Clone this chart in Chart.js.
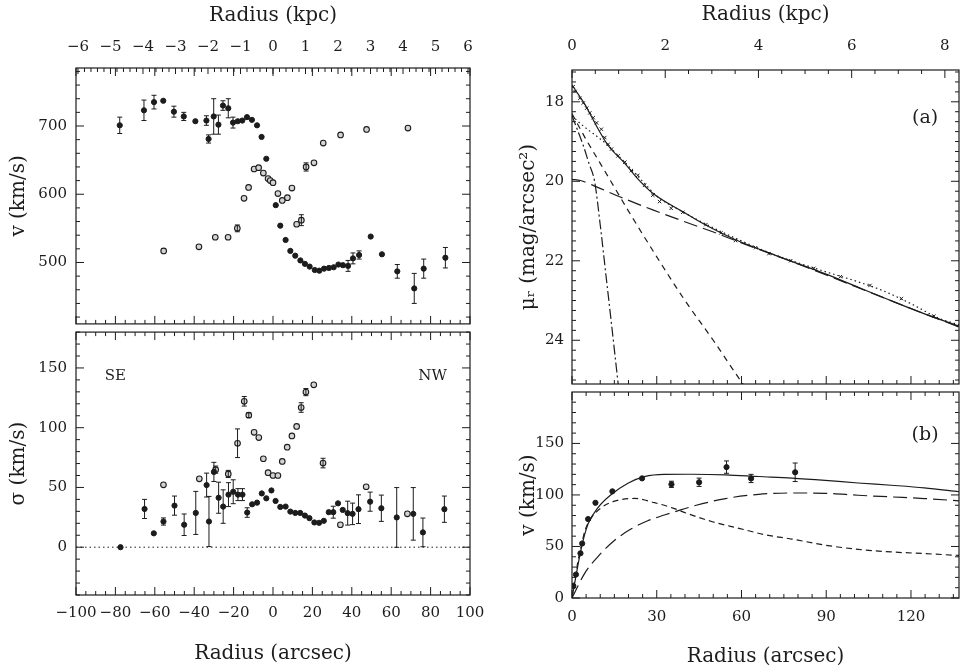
<!DOCTYPE html>
<html>
<head>
<meta charset="utf-8">
<script src="https://cdn.jsdelivr.net/npm/chart.js@4.4.1/dist/chart.umd.min.js"></script>
<style>
  body { margin: 0; background: #fff; width: 964px; height: 672px; overflow: hidden; position: relative; }
  canvas { position: absolute; }
</style>
</head>
<body>
<canvas id="velPanel" width="490" height="329" style="left:0;top:0"></canvas>
<canvas id="sigPanel" width="490" height="345" style="left:0;top:327px"></canvas>
<canvas id="muPanel" width="464" height="389" style="left:500px;top:0"></canvas>
<canvas id="rotPanel" width="464" height="285" style="left:500px;top:387px"></canvas>
<script>
// ---- stellar velocity (filled) and gas velocity (open), arcsec / km/s
const vR   = [-77.8,-65.5,-60.4,-55.7,-50.3,-45.3,-39.4,-33.8,-32.7,-30.1,-27.7,-25.4,-22.7,-20.3,-17.9,-15.6,-13.2,-10.7,-8.1,-5.8,-3.4,1.4,3.7,6.4,8.8,11.3,13.9,16.2,18.6,21.2,23.5,25.9,28.4,30.8,33.2,35.5,38.1,40.6,43.7,49.6,55.3,63.1,71.7,76.5,87.5];
const vV   = [701,723,735,737,721,714,707,708,681,714,702,730,726,705,707,708,713,709,701,684,652,584,554,533,517,510,503,498,494,489,488,491,492,493,497,496,495,506,511,538,512,487,462,491,507];
const vErr = [12,15,10,0,8,6,0,7,6,26,14,7,14,8,0,0,0,0,0,0,0,0,0,0,0,0,0,0,0,0,0,0,0,0,0,0,8,8,6,0,0,10,22,14,15];

const gR   = [-55.5,-37.6,-29.3,-22.8,-18.1,-14.7,-12.4,-9.6,-7.3,-4.9,-2.5,-1.4,0,2.5,4.7,7.3,9.6,12.0,14.4,16.8,20.8,25.5,34.3,47.5,68.5];
const gV   = [517,523,537,537,550,594,610,637,639,631,623,620,617,601,591,595,609,556,562,640,646,675,687,695,697];
const gErr = [0,0,0,0,5,0,0,0,0,0,0,0,0,0,0,0,0,0,8,6,0,0,0,0,0];

// ---- velocity dispersion, stars (filled) and gas (open)
const sR   = [-77.4,-65.2,-60.5,-55.6,-50,-45.1,-39.2,-33.7,-32.5,-30,-27.6,-25.3,-22.6,-20.2,-17.8,-15.5,-13.1,-10.6,-8.1,-5.7,-3.4,-0.8,1.3,3.7,6.4,8.8,11.3,13.8,16.2,18.5,21,23.4,25.8,28.3,30.6,33,35.4,37.9,40.4,43.4,49.3,55,62.8,71.2,76.1,87];
const sV   = [0,32,11.6,21.5,34.8,18.8,28.7,52,21.5,63,41.4,34,44,46.4,44,44,29,35.9,37.3,45,40.9,47.5,38.7,33.7,34,29.8,28.7,28.7,26.5,24.3,20.7,20.4,22.1,29.3,29.3,36.7,31.2,28.5,27.9,31.8,38.1,32.6,24.9,27.9,12.4,31.8];
const sErr = [0,8,0,3,8,9,18,10,21,8,13,14,10,10,5,5,4,0,0,0,0,0,0,0,0,0,0,0,0,0,0,0,0,0,5,0,0,10,9,12,8,11,25,22,12,11];

const soR   = [-55.6,-37.4,-29.1,-22.7,-18,-14.6,-12.3,-9.6,-7.2,-4.9,-2.5,0,2.5,4.7,7.2,9.6,12,14.3,16.7,20.7,25.4,34.2,47.3,68.2];
const soV   = [52.2,57.2,64.9,61.3,87,122.1,110.5,96.1,91.7,74,62.4,60,60,71.8,83.7,93.1,101.1,116.9,129.8,135.9,70.4,18.8,50.6,27.9];
const soErr = [0,0,3,3,12,4,2,0,0,0,0,0,0,0,0,0,0,4,3,0,4,0,0,0];
const zeroLine = [-100, 100];

// ---- (a) r-band surface brightness profile and decomposition
const profR  = [0.4,1.06,2.8,4.0,5.2,6.3,7.5,8.7,10.4,11.6,12.8,14,16.3,18.7,21,23.3,25.7,28.6,31,35.1,39.2,47.4,52.7,57.9,65,69.7,77.4,85.6,95,105.5,116.6,128.1];
const profMu = [17.62,17.74,17.91,18.03,18.16,18.28,18.4,18.53,18.69,18.9,19.07,19.19,19.36,19.52,19.73,19.85,20.1,20.35,20.51,20.68,20.78,21.09,21.3,21.49,21.67,21.82,22.0,22.19,22.4,22.62,22.95,23.39];

const muTotR  = [0,2.3,4.6,9.3,12.8,18.7,22.8,28.6,39.1,47.3,57.9,69.7,78,89.7,101.4,112.8,124.6,137.5];
const muTot   = [17.58,17.82,18.07,18.69,19.1,19.55,19.9,20.3,20.76,21.1,21.47,21.8,22.02,22.33,22.67,23.0,23.33,23.66];
const muAltR  = [0,3,6,9,12,16,20,25,30,40,50,60,70,80,90,100,110,120,130,137.5];
const muAlt   = [18.35,18.55,18.72,18.88,19.05,19.33,19.62,20.0,20.37,20.8,21.17,21.5,21.8,22.05,22.28,22.5,22.75,23.08,23.45,23.62];
const muNucR  = [0,2,4,6,8,10,12,14,16.5];
const muNuc   = [18.35,18.72,19.1,19.55,20.0,21.1,22.35,23.6,25.2];
const muBulR  = [0,5,10,15,20,30,40,50,60,61.5];
const muBul   = [18.3,18.95,19.55,20.15,20.75,21.9,23.0,24.0,25.05,25.2];
const muDiskR = [0,3,8.7,16.9,28.6,40.4,49.8,60,80,100,120,137.5];
const muDisk  = [19.95,19.98,20.14,20.39,20.72,21.03,21.27,21.55,22.08,22.64,23.2,23.68];

// ---- (b) rotation curve with bulge and disk contributions
const rotR   = [0.47,1.4,3.0,3.6,5.7,8.3,14.3,24.8,35.2,45,54.7,63.4,79];
const rotV   = [11.7,22.8,43.4,52.9,76.6,92.4,103.5,116.1,110.3,112.3,127,116,122];
const rotErr = [0,0,0,0,0,0,0,0,3,4,6,4,9];

const vTotR  = [0,1.6,3.4,5.7,9.2,13.9,19.8,25.6,32.7,42.7,54.4,66.1,77.8,89.6,101.3,113,124.7,137];
const vTot   = [0,24.4,49.7,71.9,87.7,100.4,111.4,117.8,120,120.1,119.5,117.9,116.4,114.2,111.6,109.4,106.9,103.1];
const vBulR  = [0,1,2.2,3.4,4.6,6.9,10.4,15.1,22.1,29.2,36,40.3,49.7,59.1,68.5,77.8,89.6,101.3,113,124.7,137];
const vBul   = [0,18,37,52,65.5,78,87.7,94,96.6,92.5,87,82.5,74,67.6,61.3,57.2,51.3,47.2,44.7,43.1,41.3];
const vDiskR = [0,4.6,9.2,15.1,21,26.8,32.7,38.5,44,54.4,66.1,77.8,89.6,101.3,113,124.7,137];
const vDisk  = [0,24.4,40.2,56,67.1,75,80.5,85.5,90,96.5,100.6,101.9,101.6,99.7,98.1,96.5,94.3];

const arcsecPerKpc = 16.5;
const ink = '#1c1c1c';

Chart.defaults.font.family = "'DejaVu Serif', serif";
Chart.defaults.font.size = 15;
Chart.defaults.color = ink;
Chart.defaults.animation = false;
Chart.defaults.events = [];
Chart.defaults.plugins.legend.display = false;
Chart.defaults.plugins.tooltip.enabled = false;

const pts = (xs, ys) => xs.map((x, i) => ({ x, y: ys[i] }));
const onMajor = (v, major) => Math.abs(v / major - Math.round(v / major)) < 1e-6;
const fmt = v => String(Math.round(v * 100) / 100).replace('-', '\u2212');

function stepTicks(lo, hi, step) {
  const out = [];
  for (let k = Math.ceil(lo / step - 1e-9); k * step <= hi + 1e-9; k++) out.push(+(k * step).toFixed(4));
  return out;
}

// linear axis with fixed box size, hand-picked tick spacing and labels only on majors
function axis({ position, min, max, step, major, size, labels = true, pad = 8, title = null, titlePad = 0, reverse = false, axisDir }) {
  const horizontal = position === 'top' || position === 'bottom';
  return {
    type: 'linear', axis: axisDir || (horizontal ? 'x' : 'y'), position, min, max, reverse,
    grid: { display: false, drawTicks: false },
    border: { display: false },
    ticks: {
      display: labels, padding: pad, autoSkip: false, maxRotation: 0, minRotation: 0,
      callback: v => onMajor(v, major) ? fmt(v) : ''
    },
    title: title ? {
      display: true, text: title, font: { size: 20 },
      padding: position === 'bottom' ? { top: 0, bottom: titlePad } : { top: titlePad, bottom: 0 }
    } : { display: false },
    afterBuildTicks: s => { s.ticks = stepTicks(min, max, step).map(value => ({ value })); },
    afterFit: s => {
      if (horizontal) s.height = size; else s.width = size;
      s.paddingLeft = s.paddingRight = s.paddingTop = s.paddingBottom = 0;
    }
  };
}

// plot frame, inward tick marks and text notes placed in data units
const frame = {
  id: 'frame',
  afterDraw(chart, _args, opts) {
    const { ctx, chartArea: { left, right, top, bottom } } = chart;
    ctx.save();
    ctx.strokeStyle = ink;
    ctx.lineWidth = 1.2;
    ctx.strokeRect(left, top, right - left, bottom - top);
    ctx.lineWidth = 1;
    for (const m of opts.marks || []) {
      const s = chart.scales[m.id];
      for (const t of s.ticks) {
        const major = onMajor(t.value, m.major);
        if (m.majorOnly && !major) continue;
        const p = s.getPixelForValue(t.value);
        const len = major ? (m.long || 8) : 4;
        ctx.beginPath();
        for (const e of m.edges) {
          if (e === 'bottom') { ctx.moveTo(p, bottom); ctx.lineTo(p, bottom - len); }
          if (e === 'top') { ctx.moveTo(p, top); ctx.lineTo(p, top + len); }
          if (e === 'left') { ctx.moveTo(left, p); ctx.lineTo(left + len, p); }
          if (e === 'right') { ctx.moveTo(right, p); ctx.lineTo(right - len, p); }
        }
        ctx.stroke();
      }
    }
    ctx.fillStyle = ink;
    ctx.textAlign = 'center';
    ctx.textBaseline = 'middle';
    for (const n of opts.notes || []) {
      ctx.font = `${n.size}px 'DejaVu Serif', serif`;
      ctx.fillText(n.text, chart.scales.x.getPixelForValue(n.x), chart.scales.y.getPixelForValue(n.y));
    }
    ctx.restore();
  }
};

// vertical error bars from each dataset's errs array
const errorBars = {
  id: 'errorBars',
  afterDatasetsDraw(chart) {
    const { ctx } = chart;
    ctx.save();
    ctx.strokeStyle = ink;
    ctx.lineWidth = 1;
    chart.data.datasets.forEach((ds, i) => {
      if (!ds.errs) return;
      const meta = chart.getDatasetMeta(i);
      const ys = chart.scales[meta.yAxisID];
      meta.data.forEach((el, j) => {
        const e = ds.errs[j];
        if (!e) return;
        const y0 = ys.getPixelForValue(ds.data[j].y - e);
        const y1 = ys.getPixelForValue(ds.data[j].y + e);
        const x = el.x;
        ctx.beginPath();
        ctx.moveTo(x, y0); ctx.lineTo(x, y1);
        ctx.moveTo(x - 2.5, y0); ctx.lineTo(x + 2.5, y0);
        ctx.moveTo(x - 2.5, y1); ctx.lineTo(x + 2.5, y1);
        ctx.stroke();
      });
    });
    ctx.restore();
  }
};

const filled = (data, errs) => ({ data, errs, pointRadius: 2.6, pointStyle: 'circle', backgroundColor: ink, borderColor: ink, borderWidth: 1 });
const open = (data, errs) => ({ data, errs, pointRadius: 2.8, pointStyle: 'circle', backgroundColor: '#d4d4d4', borderColor: ink, borderWidth: 1.1 });
const curve = (data, dash) => ({
  data, showLine: true, pointRadius: 0, borderColor: ink, borderWidth: 1.2, borderDash: dash,
  cubicInterpolationMode: 'monotone', fill: false
});

// left, upper: line-of-sight velocity
new Chart(document.getElementById('velPanel'), {
  type: 'scatter',
  data: { datasets: [filled(pts(vR, vV), vErr), open(pts(gR, gV), gErr)] },
  options: {
    responsive: false,
    layout: { padding: { left: 0, right: 20, top: 0, bottom: 1 } },
    scales: {
      x: axis({ position: 'bottom', min: -100, max: 100, step: 5, major: 20, size: 0, labels: false }),
      kpc: axis({ position: 'top', axisDir: 'x', min: -100 / arcsecPerKpc, max: 100 / arcsecPerKpc, step: 0.2, major: 1, size: 68, pad: 12, title: 'Radius (kpc)', titlePad: 4 }),
      y: axis({ position: 'left', min: 410, max: 785, step: 20, major: 100, size: 76, pad: 9, title: 'v (km/s)', titlePad: 7 })
    },
    plugins: {
      frame: { marks: [
        { id: 'x', edges: ['bottom'], major: 20 },
        { id: 'x', edges: ['top'], major: 20, majorOnly: true },
        { id: 'kpc', edges: ['top'], major: 1, long: 6 },
        { id: 'y', edges: ['left', 'right'], major: 100 }
      ] }
    }
  },
  plugins: [frame, errorBars]
});

// left, lower: velocity dispersion
new Chart(document.getElementById('sigPanel'), {
  type: 'scatter',
  data: {
    datasets: [
      { ...curve(pts(zeroLine, [0, 0]), [1.5, 3]), borderWidth: 1, cubicInterpolationMode: 'default' },
      filled(pts(sR, sV), sErr),
      open(pts(soR, soV), soErr)
    ]
  },
  options: {
    responsive: false,
    layout: { padding: { left: 0, right: 20, top: 1, bottom: 0 } },
    scales: {
      x: axis({ position: 'bottom', min: -100, max: 100, step: 5, major: 20, size: 77, pad: 9, title: 'Radius (arcsec)', titlePad: 6 }),
      y: axis({ position: 'left', min: -40, max: 180, step: 10, major: 50, size: 76, pad: 9, title: '\u03c3 (km/s)', titlePad: 7 })
    },
    plugins: {
      frame: {
        marks: [
          { id: 'x', edges: ['top', 'bottom'], major: 20 },
          { id: 'y', edges: ['left', 'right'], major: 50 }
        ],
        notes: [
          { text: 'SE', x: -80, y: 143, size: 15 },
          { text: 'NW', x: 81, y: 143, size: 15 }
        ]
      }
    }
  },
  plugins: [frame, errorBars]
});

// right, upper: (a) surface brightness
new Chart(document.getElementById('muPanel'), {
  type: 'scatter',
  data: {
    datasets: [
      curve(pts(muDiskR, muDisk), [14, 6]),
      curve(pts(muBulR, muBul), [6, 5]),
      curve(pts(muNucR, muNuc), [10, 3, 2, 3]),
      curve(pts(muAltR, muAlt), [1.5, 3]),
      curve(pts(muTotR, muTot), []),
      { data: pts(profR, profMu), pointStyle: 'crossRot', pointRadius: 2.4, borderColor: ink, borderWidth: 1 }
    ]
  },
  options: {
    responsive: false,
    layout: { padding: { left: 0, right: 2, top: 0, bottom: 1 } },
    scales: {
      x: axis({ position: 'bottom', min: 0, max: 137, step: 5, major: 30, size: 0, labels: false }),
      kpc: axis({ position: 'top', axisDir: 'x', min: 0, max: 137 / arcsecPerKpc, step: 0.5, major: 2, size: 70, pad: 15, title: 'Radius (kpc)', titlePad: 3 }),
      y: axis({ position: 'left', min: 17.2, max: 25.1, step: 0.25, major: 2, size: 72, pad: 8, reverse: true, title: '\u03bc\u1d63 (mag/arcsec\u00b2)', titlePad: 17 })
    },
    plugins: {
      frame: {
        marks: [
          { id: 'x', edges: ['bottom'], major: 30 },
          { id: 'kpc', edges: ['top'], major: 2 },
          { id: 'y', edges: ['left', 'right'], major: 2 }
        ],
        notes: [{ text: '(a)', x: 125, y: 18.4, size: 19 }]
      }
    }
  },
  plugins: [frame]
});

// right, lower: (b) rotation curve
new Chart(document.getElementById('rotPanel'), {
  type: 'scatter',
  data: {
    datasets: [
      curve(pts(vDiskR, vDisk), [14, 6]),
      curve(pts(vBulR, vBul), [6, 4]),
      curve(pts(vTotR, vTot), []),
      filled(pts(rotR, rotV), rotErr)
    ]
  },
  options: {
    responsive: false,
    layout: { padding: { left: 0, right: 2, top: 1, bottom: 0 } },
    scales: {
      x: axis({ position: 'bottom', min: 0, max: 137, step: 5, major: 30, size: 74, pad: 10, title: 'Radius (arcsec)', titlePad: 3 }),
      y: axis({ position: 'left', min: 0, max: 199.9, step: 10, major: 50, size: 72, pad: 8, title: 'v (km/s)', titlePad: 17 })
    },
    plugins: {
      frame: {
        marks: [
          { id: 'x', edges: ['top', 'bottom'], major: 30 },
          { id: 'y', edges: ['left', 'right'], major: 50 }
        ],
        notes: [{ text: '(b)', x: 125, y: 158, size: 19 }]
      }
    }
  },
  plugins: [frame, errorBars]
});
</script>
</body>
</html>
